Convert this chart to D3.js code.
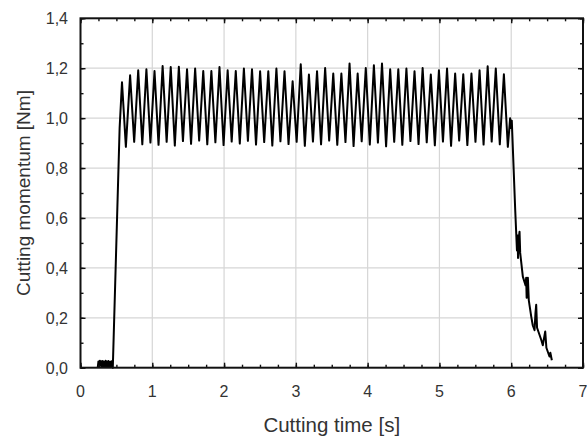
<!DOCTYPE html>
<html>
<head>
<meta charset="utf-8">
<script src="https://cdn.jsdelivr.net/npm/d3@7"></script>
<style>
  html, body { margin: 0; padding: 0; background: #fff; }
  svg { display: block; }
  text { font-family: "Liberation Sans", Arial, sans-serif; fill: #333; }
</style>
</head>
<body>
<script>
// ---- data ----
const xTicks = [0, 1, 2, 3, 4, 5, 6, 7];
const xTickLabels = ["0", "1", "2", "3", "4", "5", "6", "7"];
const yTicks = [0, 0.2, 0.4, 0.6, 0.8, 1.0, 1.2, 1.4];
const yTickLabels = ["0,0", "0,2", "0,4", "0,6", "0,8", "1,0", "1,2", "1,4"];
const xTitle = "Cutting time [s]";
const yTitle = "Cutting momentum [Nm]";

// idle noise before cutting starts
const startTime = [0.24, 0.25, 0.26, 0.27, 0.28, 0.29, 0.30, 0.31, 0.32, 0.33, 0.34, 0.35, 0.36, 0.37, 0.38, 0.39, 0.40, 0.41, 0.42, 0.43, 0.44, 0.45, 0.545];
const startTorque = [0.0, 0.025, 0.004, 0.028, 0.008, 0.026, 0.003, 0.027, 0.006, 0.024, 0.004, 0.028, 0.005, 0.025, 0.003, 0.027, 0.007, 0.023, 0.004, 0.026, 0.004, 0.0, 0.96];

// steady cutting: alternating peak / trough samples
const cutTime = [
  0.578, 0.632, 0.691, 0.748, 0.804, 0.861, 0.918, 0.974, 1.031, 1.087,
  1.144, 1.200, 1.257, 1.314, 1.370, 1.427, 1.484, 1.540, 1.597, 1.653,
  1.710, 1.766, 1.823, 1.879, 1.936, 1.993, 2.050, 2.106, 2.163, 2.219,
  2.276, 2.332, 2.389, 2.445, 2.502, 2.559, 2.616, 2.672, 2.729, 2.785,
  2.842, 2.898, 2.955, 3.011, 3.068, 3.125, 3.182, 3.238, 3.295, 3.351,
  3.408, 3.464, 3.521, 3.577, 3.634, 3.691, 3.748, 3.804, 3.861, 3.917,
  3.974, 4.030, 4.087, 4.143, 4.200, 4.257, 4.314, 4.370, 4.427, 4.483,
  4.540, 4.596, 4.653, 4.709, 4.766, 4.823, 4.880, 4.936, 4.993, 5.049,
  5.106, 5.162, 5.219, 5.275, 5.332, 5.389, 5.446, 5.502, 5.559, 5.615,
  5.672, 5.728, 5.785, 5.841, 5.898, 5.953
];
const cutTorque = [
  1.144, 0.885, 1.172, 0.905, 1.192, 0.895, 1.196, 0.902, 1.189, 0.893,
  1.209, 0.905, 1.205, 0.890, 1.206, 0.908, 1.196, 0.897, 1.199, 0.910,
  1.189, 0.895, 1.189, 0.903, 1.205, 0.892, 1.192, 0.906, 1.189, 0.898,
  1.199, 0.909, 1.196, 0.894, 1.188, 0.904, 1.188, 0.890, 1.199, 0.907,
  1.188, 0.896, 1.148, 0.905, 1.216, 0.889, 1.175, 0.906, 1.188, 0.895,
  1.201, 0.910, 1.179, 0.893, 1.179, 0.904, 1.219, 0.888, 1.179, 0.907,
  1.201, 0.894, 1.212, 0.902, 1.219, 0.887, 1.196, 0.905, 1.196, 0.893,
  1.199, 0.908, 1.188, 0.896, 1.201, 0.903, 1.175, 0.891, 1.192, 0.906,
  1.199, 0.889, 1.179, 0.910, 1.176, 0.892, 1.179, 0.905, 1.192, 0.894,
  1.208, 0.906, 1.199, 0.895, 1.176, 0.885
];

// tool exit / run-down
const endTime = [5.985, 5.995, 6.008, 6.056, 6.080, 6.088, 6.095, 6.105, 6.116, 6.125, 6.162,
  6.200, 6.208, 6.215, 6.232, 6.245, 6.279, 6.300, 6.325, 6.338, 6.348, 6.360, 6.418,
  6.440, 6.474, 6.490, 6.533, 6.545, 6.566];
const endTorque = [1.00, 0.96, 0.99, 0.63, 0.47, 0.53, 0.44, 0.52, 0.545, 0.46, 0.365,
  0.33, 0.36, 0.28, 0.36, 0.27, 0.205, 0.17, 0.15, 0.22, 0.252, 0.16, 0.112,
  0.09, 0.145, 0.08, 0.045, 0.06, 0.03];

// ---- layout ----
const W = 587, H = 437;
const mLeft = 80.5, mRight = 583, mTop = 18.3, mBottom = 367.7;

const x = d3.scaleLinear().domain([0, 7]).range([mLeft, mRight]);
const y = d3.scaleLinear().domain([0, 1.4]).range([mBottom, mTop]);

const svg = d3.select("body").append("svg").attr("width", W).attr("height", H);

// grid
svg.append("g").selectAll("line").data(xTicks.slice(1, -1)).join("line")
  .attr("x1", d => x(d)).attr("x2", d => x(d)).attr("y1", mTop).attr("y2", mBottom)
  .attr("stroke", "#d6d6d6").attr("stroke-width", 1.2);
svg.append("g").selectAll("line").data(yTicks.slice(1, -1)).join("line")
  .attr("y1", d => y(d)).attr("y2", d => y(d)).attr("x1", mLeft).attr("x2", mRight)
  .attr("stroke", "#d6d6d6").attr("stroke-width", 1.2);

// signal
const pts = [];
startTime.forEach((t, i) => pts.push([t, startTorque[i]]));
cutTime.forEach((t, i) => pts.push([t, cutTorque[i]]));
endTime.forEach((t, i) => pts.push([t, endTorque[i]]));
const line = d3.line().x(d => x(d[0])).y(d => y(d[1]));
svg.append("path").datum(pts).attr("d", line)
  .attr("fill", "none").attr("stroke", "#000").attr("stroke-width", 2.0)
  .attr("stroke-linejoin", "round");

// axes (ticks inward on all sides)
const xMinor = d3.range(0, 7.001, 0.25);
const yMinor = d3.range(0, 1.4001, 0.1);
function addAxis(axisGen, transform) {
  const g = svg.append("g").attr("transform", transform).call(axisGen);
  g.select(".domain").remove();
  g.selectAll("line").attr("stroke", "#111").attr("stroke-width", 1.4);
  g.selectAll("text").remove();
  return g;
}
addAxis(d3.axisBottom(x).tickValues(xMinor).tickSize(-3), `translate(0,${mBottom})`);
addAxis(d3.axisBottom(x).tickValues(xTicks).tickSize(-5), `translate(0,${mBottom})`);
addAxis(d3.axisTop(x).tickValues(xMinor).tickSize(-3), `translate(0,${mTop})`);
addAxis(d3.axisTop(x).tickValues(xTicks).tickSize(-5), `translate(0,${mTop})`);
addAxis(d3.axisLeft(y).tickValues(yMinor).tickSize(-3), `translate(${mLeft},0)`);
addAxis(d3.axisLeft(y).tickValues(yTicks).tickSize(-5), `translate(${mLeft},0)`);
addAxis(d3.axisRight(y).tickValues(yMinor).tickSize(-3), `translate(${mRight},0)`);
addAxis(d3.axisRight(y).tickValues(yTicks).tickSize(-5), `translate(${mRight},0)`);

// frame
svg.append("rect").attr("x", mLeft).attr("y", mTop)
  .attr("width", mRight - mLeft).attr("height", mBottom - mTop)
  .attr("fill", "none").attr("stroke", "#111").attr("stroke-width", 2);

// tick labels
svg.append("g").selectAll("text").data(xTicks).join("text")
  .attr("x", d => x(d)).attr("y", 397).attr("text-anchor", "middle")
  .attr("font-size", 16).text((d, i) => xTickLabels[i]);
svg.append("g").selectAll("text").data(yTicks).join("text")
  .attr("x", 68).attr("y", d => y(d) + 6).attr("text-anchor", "end")
  .attr("font-size", 16).text((d, i) => yTickLabels[i]);

// titles
svg.append("text").attr("x", (mLeft + mRight) / 2).attr("y", 432)
  .attr("text-anchor", "middle").attr("font-size", 20.5).text(xTitle);
svg.append("text").attr("transform", `translate(30,${(mTop + mBottom) / 2}) rotate(-90)`)
  .attr("text-anchor", "middle").attr("font-size", 19).text(yTitle);
</script>
</body>
</html>
